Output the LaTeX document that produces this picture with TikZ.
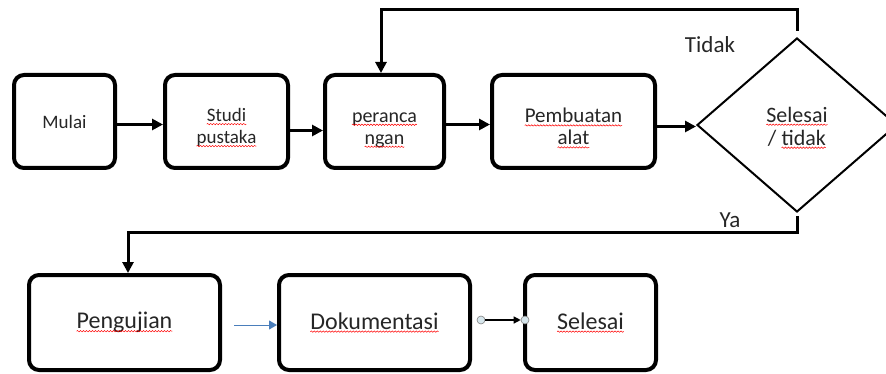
\documentclass[tikz,border=0pt]{standalone}
\usepackage{fontspec}
\setmainfont{Carlito}
\usetikzlibrary{positioning, shapes.geometric, arrows.meta, decorations.pathmorphing}
\definecolor{wordblue}{HTML}{4A7EBB}
\definecolor{titikfill}{HTML}{D6E6EC}
% red wavy underline (spell check marks)
\newcommand\salah[1]{\tikz[baseline=(salahw.base)]{%
  \node[shape=rectangle, draw=none, fill=none, inner sep=0pt, outer sep=0pt,
        minimum width=0pt, minimum height=0pt, anchor=base] (salahw) {#1};
  \draw[red, line width=0.5pt, sharp corners, decorate,
        decoration={snake, amplitude=0.7pt, segment length=3pt}]
       ([yshift=-2.5pt]salahw.base west) -- ([yshift=-2.5pt]salahw.base east);}}
% pushes two-line texts a bit down
\newcommand\turun[1][1.35em]{\rule{0pt}{#1}}

\begin{document}
\begin{tikzpicture}[x=1pt, y=-1pt,
     node distance = 40pt and 40pt,
        box/.style = {rectangle, draw, rounded corners=10pt, line width=4pt,
                      minimum height=93pt, align=center, text=black!85,
                      font=\fontsize{19}{22}\selectfont},
       bbox/.style = {box, minimum height=95pt, font=\fontsize{24}{28}\selectfont},
        dec/.style = {diamond, draw, line width=2pt, minimum width=200pt,
                      minimum height=174pt, inner sep=0pt, align=center,
                      text=black!85, font=\fontsize{22}{23}\selectfont},
        lbl/.style = {text=black!85, font=\fontsize{23}{26}\selectfont},
       flow/.style = {line width=3pt, -{Triangle[length=11pt,width=11pt]}},
      titik/.style = {circle, draw=gray, fill=titikfill, line width=0.6pt,
                      minimum size=8pt, inner sep=0pt}
                        ]
\clip (0,0) rectangle (886,374);
% top row
\node (mulai)[box, minimum width=101pt] at (64.5,121.5) {Mulai};
\node (studi)[box, minimum width=123pt, right=46pt of mulai]
     {\turun\salah{Studi}\\\salah{pustaka}};
\node (rancang)[box, minimum width=119pt, right=33pt of studi,
               font=\fontsize{20}{22}\selectfont] {\turun\salah{peranca}\\\salah{ngan}};
\node (buat)[box, minimum width=163pt, right=44pt of rancang,
            font=\fontsize{21}{22}\selectfont] {\turun\salah{Pembuatan}\\\salah{alat}};
\node (cek)[dec, right=39pt of buat, yshift=-3.5pt]
     {\turun[0.95em]\salah{Selesai}\\/ \salah{tidak}};
\node (tidak)[lbl] at (710,45) {Tidak};
\node (ya)[lbl] at (730,220) {Ya};
% bottom row
\node (uji)[bbox, minimum width=191pt] at (124.5,322.5) {\salah{Pengujian}};
\node (dok)[bbox, minimum width=191pt, right=55pt of uji] {\salah{Dokumentasi}};
\node (selesai)[bbox, minimum width=131pt, right=51pt of dok] {\salah{Selesai}};
\coordinate (atas) at (381,10);
\coordinate (bawah) at (128,233);

\draw[flow] ([yshift=-3pt]mulai.east) to ([yshift=-3pt]studi.west);
\draw[flow] ([yshift=-9pt]studi.east) to ([yshift=-9pt]rancang.west);
\draw[flow] ([yshift=-3pt]rancang.east) to ([yshift=-3pt]buat.west);
\draw[flow] ([yshift=-5pt]buat.east) to ([yshift=-5pt]buat.east -| cek.west);
\draw[flow] ([yshift=6pt]cek.north) |- (atas) -- (atas |- rancang.north);
\draw[flow] ([yshift=-3pt]cek.south) |- (bawah) -- (bawah |- uji.north);
\draw[wordblue, line width=1pt, -{Triangle[length=8pt,width=9pt]}]
     ([shift={(12pt,-2.5pt)}]uji.east) to ([yshift=-2.5pt]dok.west);
\node (p1)[titik] at ([shift={(9pt,2.5pt)}]dok.east) {};
\node (p2)[titik] at ([shift={(2pt,2.5pt)}]selesai.west) {};
\draw[line width=1.2pt, -{Triangle[length=7pt,width=7pt]}] (p1) to (p2);
\end{tikzpicture}
\end{document}
